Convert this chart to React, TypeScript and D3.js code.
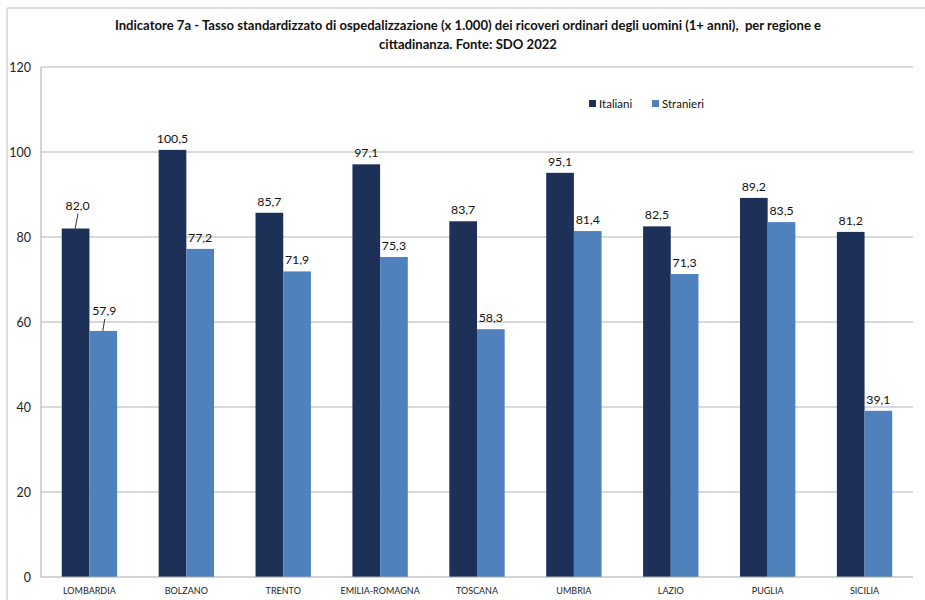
import React from "react";
import * as d3 from "d3";

const regions = ["LOMBARDIA", "BOLZANO", "TRENTO", "EMILIA-ROMAGNA", "TOSCANA", "UMBRIA", "LAZIO", "PUGLIA", "SICILIA"];
const italiani = [82.0, 100.5, 85.7, 97.1, 83.7, 95.1, 82.5, 89.2, 81.2];
const stranieri = [57.9, 77.2, 71.9, 75.3, 58.3, 81.4, 71.3, 83.5, 39.1];
const seriesNames = ["Italiani", "Stranieri"];
const yTicks = [0, 20, 40, 60, 80, 100, 120];
const titleLines = [
  "Indicatore 7a - Tasso standardizzato di ospedalizzazione (x 1.000) dei ricoveri ordinari degli uomini (1+ anni),  per regione e",
  "cittadinanza. Fonte: SDO 2022",
];

const colors = ["#1d3158", "#4f81bd"];
const W = 925, H = 600;
const plot = { left: 41, right: 913, top: 67, bottom: 577 };
const font = "Lato, 'Open Sans', sans-serif";

export default function App() {
  const x = d3.scaleBand<string>().domain(regions).range([plot.left, plot.right]).padding(0);
  const y = d3.scaleLinear().domain([0, 120]).range([plot.bottom, plot.top]);
  const step = x.step();
  const bw = step / 3.5;
  const fmt = (v: number) => v.toFixed(1).replace(".", ",");
  const series = [italiani, stranieri];

  return (
    <svg width={W} height={H} style={{ position: "absolute", left: 0, top: 0, background: "#fff" }}>
      <rect x={0} y={0} width={W} height={H} fill="#fff" />
      <line x1={7} x2={W} y1={8} y2={8} stroke="#bfbfbf" />
      <line x1={7} x2={7} y1={8} y2={H} stroke="#bfbfbf" />
      {titleLines.map((t, i) => (
        <text key={i} x={468} y={30 + i * 19} textAnchor="middle" fontFamily={font} fontWeight="bold" fontSize={13.1} fill="#111" style={{ whiteSpace: "pre" }}>
          {t}
        </text>
      ))}
      {yTicks.map((t) => (
        <g key={t}>
          {t > 0 && <line x1={plot.left} x2={plot.right} y1={y(t)} y2={y(t)} stroke="#b4b4b4" />}
          <text x={31} y={y(t) + 4.5} textAnchor="end" fontFamily={font} fontSize={12.5} fill="#222">{t}</text>
        </g>
      ))}
      <line x1={plot.left} x2={plot.left} y1={plot.top} y2={plot.bottom} stroke="#a8a8a8" />
      {regions.map((r, i) => {
        const cx = (x(r) as number) + step / 2;
        return (
          <g key={r}>
            {series.map((s, k) => {
              const bx = cx - bw + k * bw;
              const top = y(s[i]);
              const lc = bx + bw / 2;
              const leader = i === 0;
              const ly = leader ? top - (k === 0 ? 16 : 13) : top - 7;
              const lx = leader ? lc + (k === 0 ? 2 : 1) : lc;
              return (
                <g key={k}>
                  <rect x={bx} y={top} width={bw} height={plot.bottom - top} fill={colors[k]} />
                  {leader && (
                    <line x1={lx + 0.5} y1={ly + 1} x2={lc - 0.5} y2={top} stroke="#333" strokeWidth={1} />
                  )}
                  <text x={lx} y={ly - (leader ? 3 : 0)} textAnchor="middle" fontFamily={font} fontSize={12.3} fill="#111">
                    {fmt(s[i])}
                  </text>
                </g>
              );
            })}
            <text x={cx} y={594} textAnchor="middle" fontFamily={font} fontSize={9} fill="#222">{r}</text>
          </g>
        );
      })}
      <line x1={plot.left} x2={plot.right} y1={plot.bottom} y2={plot.bottom} stroke="#a8a8a8" />
      {seriesNames.map((n, k) => {
        const lx = k === 0 ? 589 : 652;
        return (
          <g key={n}>
            <rect x={lx} y={100} width={7} height={7} fill={colors[k]} />
            <text x={lx + 10} y={107.5} fontFamily={font} fontSize={11.5} fill="#111">{n}</text>
          </g>
        );
      })}
    </svg>
  );
}
